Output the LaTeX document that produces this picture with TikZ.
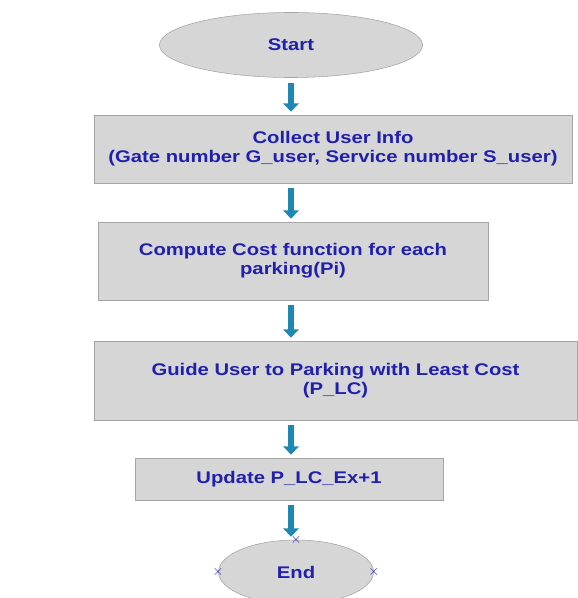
\documentclass[tikz,border=0pt]{standalone}
\usepackage{fontspec}
\setmainfont{Liberation Sans}[FakeStretch=1.2]
\usetikzlibrary{shapes.geometric,arrows.meta}
\definecolor{txtblue}{RGB}{32,32,175}
\definecolor{boxgray}{RGB}{214,214,214}
\definecolor{linegray}{RGB}{165,165,165}
\definecolor{arrowteal}{RGB}{30,135,180}

\begin{document}
\begin{tikzpicture}[x=0.025cm,y=-0.025cm,
	box/.style={draw=linegray,fill=boxgray,inner sep=0pt,align=center,text=txtblue,font=\fontsize{12}{13.5}\selectfont\bfseries},
	oval/.style={box,ellipse},
	flow/.style={draw=arrowteal,line width=4.2pt,-{Triangle[width=11pt,length=6pt]},shorten <=0.125cm,shorten >=0.075cm},
	handle/.style={text=txtblue,inner sep=0pt,font=\normalsize}]
		\useasboundingbox (0,0) rectangle (578,598);
		%流程框
		\draw (291,45) node[oval,minimum width=6.575cm,minimum height=1.625cm](start){Start};
		\draw (333,149) node[box,minimum width=11.95cm,minimum height=1.7cm](info){Collect User Info\\(Gate number G\_user, Service number S\_user)};
		\draw (293,261) node[box,minimum width=9.75cm,minimum height=1.95cm](cost){Compute Cost function for each\\parking(Pi)};
		\draw (335.5,380.5) node[box,minimum width=12.075cm,minimum height=1.975cm](guide){Guide User to Parking with Least Cost\\(P\_LC)};
		\draw (289,479) node[box,minimum width=7.7cm,minimum height=1.05cm](update){Update P\_LC\_Ex+1};
		\draw (296,572) node[oval,minimum width=3.875cm,minimum height=1.6cm](end){End};
		\foreach \a in {north,west,east,south}
			\node[handle] (h-\a) at (end.\a) {$\times$};
		%箭头
		\draw[flow] (start.south) -- (start.south |- info.north);
		\draw[flow] (info.south -| start.south) -- (cost.north -| start.south);
		\draw[flow] (cost.south -| start.south) -- (guide.north -| start.south);
		\draw[flow] (guide.south -| start.south) -- (update.north -| start.south);
		\draw[flow] (update.south -| start.south) -- (end.north -| start.south);
	\end{tikzpicture}
\end{document}
